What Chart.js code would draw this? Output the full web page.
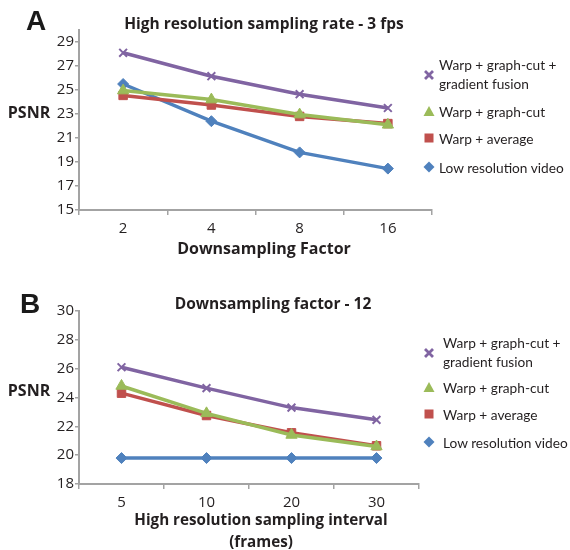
<!DOCTYPE html>
<html>
<head>
<meta charset="utf-8">
<script src="https://cdn.jsdelivr.net/npm/chart.js@4/dist/chart.umd.min.js"></script>
<style>
  body { margin: 0; width: 570px; height: 550px; position: relative; background: #fff;
         font-family: "Open Sans", sans-serif; color: #231f20; overflow: hidden; }
  canvas { position: absolute; left: 0; }
  .t { position: absolute; transform: translate(-50%, -50%); line-height: 1; white-space: nowrap; }
  .letter { font-family: "Liberation Sans", Arial, sans-serif; font-weight: bold; font-size: 28px; color: #1a1a1a; }
  .ttl { font-weight: bold; font-size: 15.5px; }
  .axt { font-weight: bold; font-size: 16px; }
  .lg { position: absolute; transform: translateY(-50%); font-family: Lato, sans-serif; font-size: 13.7px;
        line-height: 19px; white-space: nowrap; }
  .mk { position: absolute; transform: translate(-50%, -50%); }
</style>
</head>
<body>
<canvas id="chartA" width="570" height="260" style="top:0"></canvas>
<canvas id="chartB" width="570" height="288" style="top:262px"></canvas>

<div class="t letter" style="left:36px;top:21px">A</div>
<div class="t letter" style="left:30px;top:304px">B</div>

<div class="t ttl" style="left:264px;top:24px">High resolution sampling rate - 3 fps</div>
<div class="t ttl" style="left:273px;top:304px">Downsampling factor - 12</div>

<div class="t axt" style="left:29px;top:112px">PSNR</div>
<div class="t axt" style="left:29px;top:390px">PSNR</div>

<div class="t axt" style="left:264px;top:248px">Downsampling Factor</div>
<div class="t axt" style="left:261px;top:520px;font-size:15.2px">High resolution sampling interval</div>
<div class="t axt" style="left:261px;top:542px;font-size:15.2px">(frames)</div>

<div id="legendA"></div>
<div id="legendB"></div>

<script>
// panel A - high resolution sampling rate 3 fps
const categoriesA = ['2', '4', '8', '16'];
const yTicksA = [15, 17, 19, 21, 23, 25, 27, 29];
const fusionA = [28.1, 26.15, 24.65, 23.5];
const graphCutA = [24.95, 24.2, 22.95, 22.1];
const averageA = [24.55, 23.75, 22.8, 22.2];
const lowResA = [25.5, 22.4, 19.8, 18.45];

// panel B - downsampling factor 12
const categoriesB = ['5', '10', '20', '30'];
const yTicksB = [18, 20, 22, 24, 26, 28, 30];
const fusionB = [26.1, 24.65, 23.3, 22.45];
const graphCutB = [24.8, 22.9, 21.4, 20.6];
const averageB = [24.3, 22.75, 21.55, 20.65];
const lowResB = [19.8, 19.8, 19.8, 19.8];

const seriesNames = ['Warp + graph-cut + gradient fusion', 'Warp + graph-cut', 'Warp + average', 'Low resolution video'];
const colors = ['#8064a2', '#9bbb59', '#c0504d', '#4f81bd'];
const markers = ['crossRot', 'triangle', 'rect', 'rectRot'];
const markerSize = [5.5, 6.5, 6, 5.5];

const axisColor = '#a3a3a3';
const textColor = '#231f20';
const fontFamily = '"Open Sans", sans-serif';

function makeChart(id, cats, series, yMin, yMax, yTicks, pad, xHeight) {
  const datasets = series.map(function(data, i) {
    return {
      label: seriesNames[i],
      data: data,
      borderColor: colors[i],
      backgroundColor: colors[i],
      borderWidth: 3.5,
      pointStyle: markers[i],
      pointRadius: markerSize[i],
      pointBorderWidth: i === 0 ? 2 : 1,
      pointBorderColor: colors[i],
      pointBackgroundColor: colors[i],
      tension: 0
    };
  });

  return new Chart(document.getElementById(id), {
    type: 'line',
    data: { labels: cats, datasets: datasets },
    options: {
      responsive: false,
      animation: false,
      events: [],
      layout: { padding: pad },
      plugins: { legend: { display: false }, tooltip: { enabled: false }, title: { display: false } },
      scales: {
        x: {
          type: 'category',
          offset: true,
          grid: { offset: true, drawOnChartArea: false, tickLength: 5, color: axisColor, lineWidth: 1.5 },
          border: { color: axisColor, width: 2 },
          ticks: { color: textColor, font: { family: fontFamily, size: 15 }, padding: 5, maxRotation: 0 },
          afterFit: function(s) { s.height = xHeight; }
        },
        y: {
          min: yMin,
          max: yMax,
          afterBuildTicks: function(s) { s.ticks = yTicks.map(function(v) { return { value: v }; }); },
          grid: { drawOnChartArea: false, tickLength: 4, color: axisColor, lineWidth: 1.5 },
          border: { color: axisColor, width: 2 },
          ticks: { color: textColor, font: { family: fontFamily, size: 15 }, padding: 1 },
          afterFit: function(s) { s.width = 79; }
        }
      }
    }
  });
}

makeChart('chartA', categoriesA, [fusionA, graphCutA, averageA, lowResA], 15, 30, yTicksA,
  { top: 30, right: 138, left: 0, bottom: 0 }, 50);
makeChart('chartB', categoriesB, [fusionB, graphCutB, averageB, lowResB], 18, 30, yTicksB,
  { top: 49, right: 151, left: 0, bottom: 0 }, 66);

// html legends
function markerSvg(i) {
  const c = colors[i];
  let shape = '';
  if (i === 0) shape = '<path d="M2 2L10 10M10 2L2 10" stroke="' + c + '" stroke-width="2.8"/>';
  if (i === 1) shape = '<polygon points="6,1 11.5,11 0.5,11" fill="' + c + '"/>';
  if (i === 2) shape = '<rect x="1.5" y="1.5" width="9" height="9" fill="' + c + '"/>';
  if (i === 3) shape = '<polygon points="6,0.5 11.5,6 6,11.5 0.5,6" fill="' + c + '"/>';
  return '<svg width="12" height="12" viewBox="0 0 12 12">' + shape + '</svg>';
}

function makeLegend(id, markerX, textX, rows) {
  let html = '';
  rows.forEach(function(r, i) {
    html += '<div class="mk" style="left:' + markerX + 'px;top:' + r.my + 'px">' + markerSvg(i) + '</div>';
    html += '<div class="lg" style="left:' + textX + 'px;top:' + r.ty + 'px">' + r.text + '</div>';
  });
  document.getElementById(id).innerHTML = html;
}

makeLegend('legendA', 429, 439, [
  { my: 75, ty: 73.5, text: 'Warp + graph-cut +<br>gradient fusion' },
  { my: 111, ty: 111, text: seriesNames[1] },
  { my: 138, ty: 138, text: seriesNames[2] },
  { my: 167, ty: 167, text: seriesNames[3] }
]);
makeLegend('legendB', 429, 443, [
  { my: 353, ty: 352, text: 'Warp + graph-cut +<br>gradient fusion' },
  { my: 387, ty: 387, text: seriesNames[1] },
  { my: 414, ty: 414, text: seriesNames[2] },
  { my: 442, ty: 442, text: seriesNames[3] }
]);
</script>
</body>
</html>
